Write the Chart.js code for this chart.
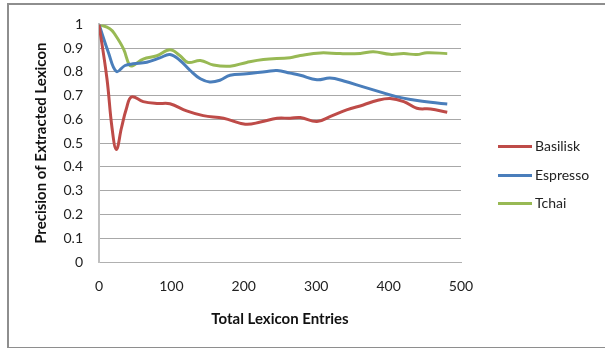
<!DOCTYPE html>
<html>
<head>
<meta charset="utf-8">
<script src="https://cdn.jsdelivr.net/npm/chart.js@4/dist/chart.umd.min.js"></script>
<style>
  html, body { margin: 0; padding: 0; background: #fff; }
  #wrap { position: relative; width: 605px; height: 348px; overflow: hidden; font-family: Lato, "Liberation Sans", sans-serif; }
  #frame { position: absolute; left: 7px; top: 3px; width: 700px; height: 342px; border-left: 2px solid #8e8e8e; border-top: 2px solid #8e8e8e; border-bottom: 2px solid #8e8e8e; }
  canvas { position: absolute; left: 0; top: 0; }
  .leg { position: absolute; left: 498px; font-size: 14px; color: #222; height: 18px; line-height: 18px; }
  .leg span.ln { position: absolute; left: 0; top: 8px; width: 34px; height: 3px; }
  .leg span.tx { position: absolute; left: 37px; top: 0; white-space: nowrap; }
</style>
</head>
<body>
<div id="wrap">
  <div id="frame"></div>
  <canvas id="c" width="605" height="348"></canvas>
  <div id="legend"></div>
</div>
<script>
// ---- data ----
const seriesNames = ["Basilisk", "Espresso", "Tchai"];
const seriesColors = ["#BE4B48", "#4A7EBB", "#98B954"];

const basiliskEntries = [0, 11, 18, 24, 31, 38, 45, 61, 80, 98, 121, 144, 172, 202, 223, 246, 264, 278, 301, 319, 342, 365, 384, 402, 421, 439, 458, 481];
const basiliskPrecision = [1.0, 0.771, 0.564, 0.474, 0.564, 0.647, 0.695, 0.675, 0.667, 0.666, 0.636, 0.616, 0.605, 0.580, 0.589, 0.605, 0.605, 0.608, 0.591, 0.612, 0.640, 0.661, 0.680, 0.688, 0.675, 0.647, 0.644, 0.630];

const espressoEntries = [0, 13, 24, 36, 47, 66, 84, 98, 112, 126, 140, 153, 167, 181, 204, 232, 246, 264, 278, 301, 319, 338, 365, 388, 412, 435, 458, 481];
const espressoPrecision = [1.0, 0.882, 0.802, 0.827, 0.834, 0.841, 0.859, 0.873, 0.848, 0.806, 0.771, 0.758, 0.765, 0.786, 0.792, 0.802, 0.806, 0.795, 0.786, 0.767, 0.774, 0.762, 0.737, 0.716, 0.695, 0.682, 0.672, 0.665];

const tchaiEntries = [0, 15, 22, 34, 42, 47, 61, 80, 98, 112, 123, 140, 158, 181, 204, 227, 264, 278, 306, 333, 361, 379, 402, 421, 439, 453, 481];
const tchaiPrecision = [1.0, 0.982, 0.958, 0.896, 0.829, 0.827, 0.854, 0.868, 0.893, 0.868, 0.840, 0.848, 0.829, 0.824, 0.840, 0.852, 0.860, 0.869, 0.880, 0.877, 0.878, 0.885, 0.874, 0.877, 0.873, 0.881, 0.877];

const yTickLabels = ["0", "0.1", "0.2", "0.3", "0.4", "0.5", "0.6", "0.7", "0.8", "0.9", "1"];
const xTickLabels = ["0", "100", "200", "300", "400", "500"];
const xTitle = "Total Lexicon Entries";
const yTitle = "Precision of Extracted Lexicon";

// ---- build ----
function pts(xs, ys) { return xs.map((x, i) => ({ x: x, y: ys[i] })); }
const allX = [basiliskEntries, espressoEntries, tchaiEntries];
const allY = [basiliskPrecision, espressoPrecision, tchaiPrecision];

Chart.defaults.font.family = "Lato, 'Liberation Sans', sans-serif";
Chart.defaults.color = "#222";

const datasets = seriesNames.map((n, i) => ({
  label: n,
  data: pts(allX[i], allY[i]),
  borderColor: seriesColors[i],
  backgroundColor: seriesColors[i],
  borderWidth: 3,
  pointRadius: 0,
  tension: 0.4,
  fill: false
}));

new Chart(document.getElementById("c"), {
  type: "line",
  data: { datasets: datasets },
  options: {
    responsive: false,
    animation: false,
    devicePixelRatio: 1,
    layout: { padding: { top: 21, right: 144, bottom: 0, left: 0 } },
    plugins: { legend: { display: false }, tooltip: { enabled: false } },
    scales: {
      x: {
        type: "linear",
        min: 0, max: 500,
        ticks: {
          stepSize: 100,
          padding: 16,
          maxRotation: 0,
          font: { size: 14 },
          color: "#222",
          callback: (v) => xTickLabels[Math.round(v / 100)]
        },
        grid: { color: "rgba(0,0,0,0)", drawTicks: false },
        border: { display: true, color: "#b0b0b0", width: 1 },
        title: { display: true, text: xTitle, font: { size: 15, weight: "bold" }, color: "#111", padding: { top: 0, bottom: 20 } },
        afterFit: (s) => { s.height = 86; }
      },
      y: {
        type: "linear",
        min: 0, max: 1,
        ticks: {
          stepSize: 0.1,
          padding: 16,
          font: { size: 14 },
          color: "#222",
          callback: (v) => yTickLabels[Math.round(v * 10)]
        },
        grid: { color: "#a8a8a8", drawTicks: false, lineWidth: 1 },
        border: { display: true, color: "#c0c0c0", width: 2 },
        title: { display: true, text: yTitle, font: { size: 15, weight: "bold" }, color: "#111", padding: { top: 32, bottom: 0 } },
        afterFit: (s) => { s.width = 99; }
      }
    }
  }
});

// legend (HTML text)
const legendEl = document.getElementById("legend");
const legendTops = [137, 166, 194];
seriesNames.forEach((n, i) => {
  const d = document.createElement("div");
  d.className = "leg";
  d.style.top = legendTops[i] + "px";
  d.innerHTML = '<span class="ln" style="background:' + seriesColors[i] + '"></span><span class="tx">' + n + '</span>';
  legendEl.appendChild(d);
});
</script>
</body>
</html>
